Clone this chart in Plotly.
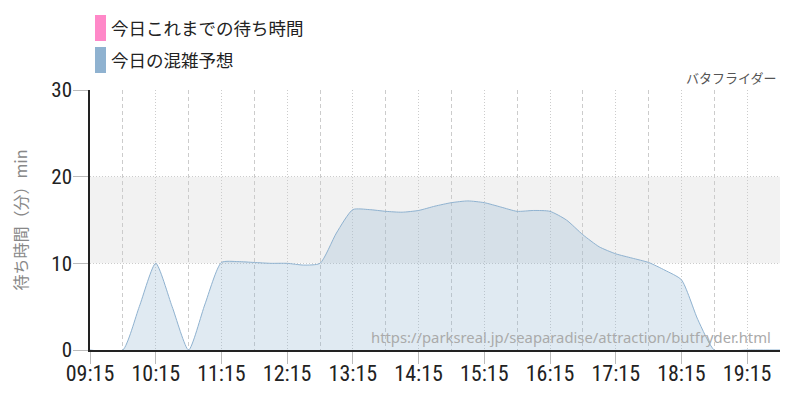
import plotly.graph_objects as go

# 15-minute slots of the day
times = [
    "09:15", "09:30", "09:45", "10:00", "10:15", "10:30", "10:45", "11:00",
    "11:15", "11:30", "11:45", "12:00", "12:15", "12:30", "12:45", "13:00",
    "13:15", "13:30", "13:45", "14:00", "14:15", "14:30", "14:45", "15:00",
    "15:15", "15:30", "15:45", "16:00", "16:15", "16:30", "16:45", "17:00",
    "17:15", "17:30", "17:45", "18:00", "18:15", "18:30", "18:45", "19:00",
    "19:15", "19:30", "19:45",
]
# 今日の混雑予想 (minutes)
forecast = [
    0, -0.2, 0, 5, 10, 5, 0, 5.3,
    10.1, 10.2, 10.1, 10.0, 10.0, 9.8, 10.0, 13.5,
    16.2, 16.2, 16.0, 15.9, 16.1, 16.6, 17.0, 17.2,
    17.0, 16.5, 16.0, 16.1, 16.0, 15.0, 13.3, 11.9,
    11.1, 10.6, 10.1, 9.2, 8.1, 3.5, 0, -0.1,
    0, 0, 0,
]
legend_names = ["今日これまでの待ち時間", "今日の混雑予想"]
legend_colors = ["#ff88c8", "#8fb2d0"]
y_ticks = [0, 10, 20, 30]

day = "2024-01-01 "
xs = [day + t for t in times]

NUM_FONT = "Roboto Condensed, Liberation Sans Narrow, DejaVu Sans Condensed, Roboto"
JP_FONT = "Noto Sans CJK JP, sans-serif"


# page pixel -> paper coords (plot area spans x 90..780, y 90..350 on the page)
def px_x(p):
    return (p - 90) / 690


def px_y(p):
    return (350 - p) / 260


fig = go.Figure()
fig.add_trace(go.Scatter(
    x=xs, y=forecast, mode="lines",
    line=dict(color="#8fb2d0", width=1, shape="spline", smoothing=0.6),
    fill="tozeroy", fillcolor="rgba(145,178,208,0.28)",
    hoverinfo="skip", showlegend=False,
))

# gray band between 10 and 20 minutes
fig.add_shape(type="rect", xref="paper", yref="y", x0=0, x1=1, y0=10, y1=20,
              fillcolor="#f2f2f2", line_width=0, layer="below")

# legend drawn by hand: tall colour bars + labels
for i, (name, col) in enumerate(zip(legend_names, legend_colors)):
    top = 15 + i * 32
    fig.add_shape(type="rect", xref="paper", yref="paper",
                  x0=px_x(95), x1=px_x(106), y0=px_y(top), y1=px_y(top + 26),
                  fillcolor=col, line_width=0)
    fig.add_annotation(text=name, xref="paper", yref="paper",
                       x=px_x(109), y=px_y(top + 13),
                       xanchor="left", yanchor="middle", showarrow=False,
                       font=dict(family=JP_FONT, size=17.5, color="#222"))

fig.add_annotation(text="バタフライダー", xref="paper", yref="paper", x=px_x(778), y=px_y(78),
                   xanchor="right", yanchor="middle", showarrow=False,
                   font=dict(family=JP_FONT, size=13, color="#555"))
fig.add_annotation(text="https://parksreal.jp/seaparadise/attraction/butfryder.html",
                   xref="paper", yref="paper", x=px_x(773), y=px_y(337),
                   xanchor="right", yanchor="middle", showarrow=False,
                   font=dict(family="Noto Sans, sans-serif", size=14.8, color="#aaa"))

# page body has an 8px margin, so the figure is 8px smaller and shifted
fig.update_layout(
    width=792, height=392,
    margin=dict(l=82, r=20, t=82, b=50),
    plot_bgcolor="white", paper_bgcolor="white",
    showlegend=False,
)
fig.update_xaxes(
    type="date", range=[day + "09:15", day + "19:45"], automargin=False,
    tick0=day + "09:15", dtick=3600000, tickformat="%H:%M",
    showgrid=True, gridcolor="#cccccc", griddash="1px,2px", gridwidth=1,
    ticks="outside", ticklen=12, tickcolor="#bbbbbb", ticklabelstandoff=-9,
    minor=dict(tick0=day + "09:15", dtick=1800000, showgrid=True,
               gridcolor="#cccccc", griddash="4px,3px", ticks=""),
    showline=True, linecolor="#222", linewidth=1.5,
    tickfont=dict(family=NUM_FONT, size=22, color="#222"),
)
fig.update_yaxes(
    range=[0, 30], tickvals=y_ticks, automargin=False,
    showgrid=True, gridcolor="#cccccc", griddash="1px,2px", gridwidth=1,
    zeroline=False,
    ticks="outside", ticklen=15, tickcolor="#bbbbbb", ticklabelstandoff=-3,
    showline=True, linecolor="#222", linewidth=1.5,
    tickfont=dict(family=NUM_FONT, size=21, color="#222"),
    title=dict(text="待ち時間（分）min", standoff=27,
               font=dict(family=JP_FONT, size=16, color="#888")),
)

fig.write_html("out.html")
